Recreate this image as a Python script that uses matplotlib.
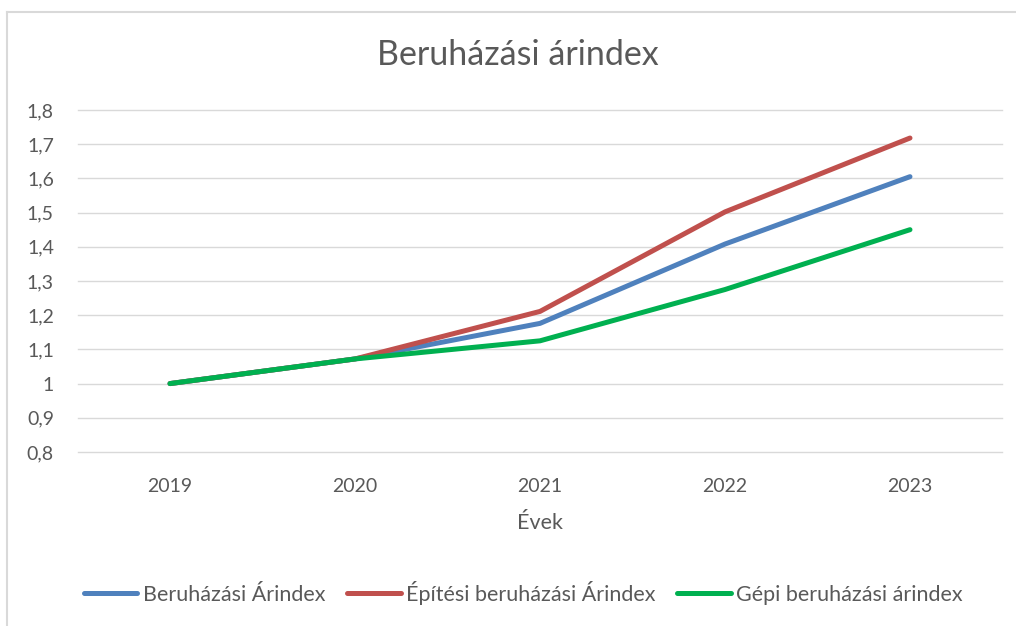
import matplotlib
matplotlib.use("Agg")
import matplotlib.pyplot as plt
from matplotlib.lines import Line2D
from matplotlib.ticker import FuncFormatter

years = ["2019", "2020", "2021", "2022", "2023"]
beruhazasi = [1.0, 1.072, 1.176, 1.408, 1.605]
epitesi = [1.0, 1.072, 1.211, 1.502, 1.718]
gepi = [1.0, 1.072, 1.125, 1.275, 1.450]

labels = ["Beruházási Árindex", "Építési beruházási Árindex", "Gépi beruházási árindex"]
colors = ["#4F81BD", "#C0504D", "#00B050"]
text_color = "#595959"
grid_color = "#D9D9D9"

plt.rcParams["font.family"] = ["Lato", "DejaVu Sans"]

fig = plt.figure(figsize=(10.16, 6.26), dpi=100)
ax = fig.add_axes([0.0763, 0.278, 0.9104, 0.5463])

x = list(range(len(years)))
for series, col, lab in zip([beruhazasi, epitesi, gepi], colors, labels):
    ax.plot(x, series, color=col, lw=3.6, solid_capstyle="round",
            solid_joinstyle="round", label=lab)

ax.set_xlim(-0.5, len(years) - 0.5)
ax.set_ylim(0.8, 1.8)
ax.set_xticks(x)
ax.set_xticklabels(years)
ax.set_yticks([0.8 + 0.1 * i for i in range(11)])
ax.yaxis.set_major_formatter(FuncFormatter(
    lambda v, p: ("%g" % round(v, 1)).replace(".", ",")))
ax.grid(axis="y", color=grid_color, lw=1.0)
for gl in ax.get_ygridlines():
    gl.set_clip_on(False)
ax.set_axisbelow(True)
for s in ax.spines.values():
    s.set_visible(False)
ax.tick_params(length=0, labelsize=14, colors=text_color)
ax.tick_params(axis="x", pad=19)
ax.tick_params(axis="y", pad=17)

ax.set_xlabel("Évek", fontsize=15.5, color=text_color, labelpad=13)
fig.text(0.51, 0.912, "Beruházási árindex", ha="center", va="center",
         fontsize=24.5, color=text_color)

handles = [Line2D([0], [0], color=c, lw=3.6, solid_capstyle="round") for c in colors]
fig.legend(handles, labels, loc="center", bbox_to_anchor=(0.515, 0.053), ncol=3,
           frameon=False, fontsize=15.5, handlelength=2.5, handletextpad=0.25,
           columnspacing=1.0, labelcolor=text_color)

# outer chart border (top and left only visible)
fig.add_artist(Line2D([7 / 1016, 1], [1 - 11.5 / 626, 1 - 11.5 / 626],
                      color=grid_color, lw=1.5, transform=fig.transFigure))
fig.add_artist(Line2D([7 / 1016, 7 / 1016], [0, 1 - 11.5 / 626],
                      color=grid_color, lw=1.5, transform=fig.transFigure))

fig.savefig("out.png", dpi=100)
